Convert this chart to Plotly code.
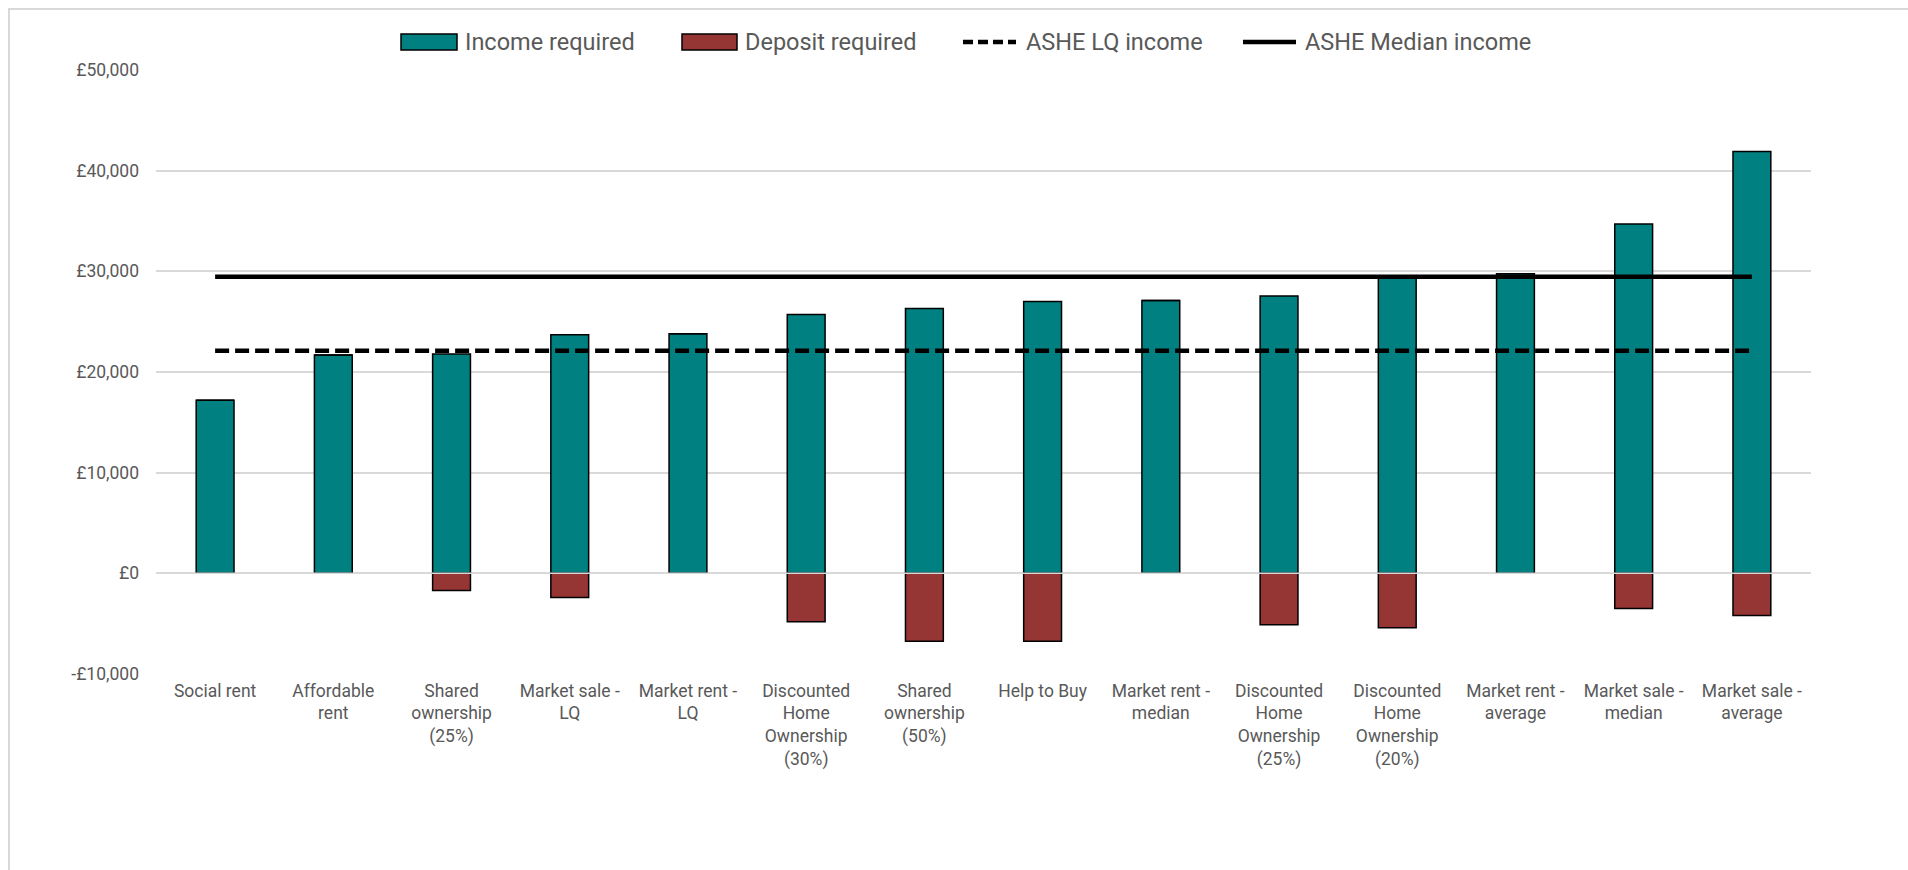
import plotly.graph_objects as go

# Housing tenure options
categories = [
    "Social rent",
    "Affordable<br>rent",
    "Shared<br>ownership<br>(25%)",
    "Market sale -<br>LQ",
    "Market rent -<br>LQ",
    "Discounted<br>Home<br>Ownership<br>(30%)",
    "Shared<br>ownership<br>(50%)",
    "Help to Buy",
    "Market rent -<br>median",
    "Discounted<br>Home<br>Ownership<br>(25%)",
    "Discounted<br>Home<br>Ownership<br>(20%)",
    "Market rent -<br>average",
    "Market sale -<br>median",
    "Market sale -<br>average",
]

# Annual income required (£)
income_required = [17200, 21700, 21800, 23700, 23800, 25700, 26300,
                   27000, 27100, 27550, 29400, 29750, 34700, 41900]

# Deposit required (£), plotted below zero
deposit_required = [0, 0, -1700, -2400, 0, -4800, -6750,
                    -6750, 0, -5100, -5400, 0, -3500, -4200]

# ASHE earnings benchmarks (£)
ashe_lq_income = 22100
ashe_median_income = 29450

# Value axis ticks
tick_values = [-10000, 0, 10000, 20000, 30000, 40000, 50000]
tick_labels = ["-£10,000", "£0", "£10,000", "£20,000", "£30,000", "£40,000", "£50,000"]

TEAL = "#008080"
BRICK = "#963634"
GRID = "#d9d9d9"
TEXT = "#595959"
FONT = "Roboto, 'Open Sans', sans-serif"

W, H = 1908, 870
ML, MR, MT, MB = 156, 97, 70, 196
PW = W - ML - MR
PH = H - MT - MB


def px_x(x):
    return (x - ML) / PW


def px_y(y):
    return 1 - (y - MT) / PH


fig = go.Figure()

fig.add_trace(go.Bar(
    x=categories, y=income_required, name="Income required",
    marker=dict(color=TEAL, line=dict(color="black", width=1.5)),
    width=0.32, showlegend=False,
))
fig.add_trace(go.Bar(
    x=categories, y=deposit_required, name="Deposit required",
    marker=dict(color=BRICK, line=dict(color="black", width=1.5)),
    width=0.32, showlegend=False,
))
fig.add_trace(go.Scatter(
    x=categories, y=[ashe_lq_income] * len(categories), name="ASHE LQ income",
    mode="lines", line=dict(color="black", width=4.5, dash="14px,6px"),
    showlegend=False,
))
fig.add_trace(go.Scatter(
    x=categories, y=[ashe_median_income] * len(categories), name="ASHE Median income",
    mode="lines", line=dict(color="black", width=4.5),
    showlegend=False,
))

shapes = []
# outer chart border (left and top edges visible)
shapes.append(dict(type="line", xref="paper", yref="paper",
                   x0=px_x(9), x1=px_x(9), y0=px_y(H + 50), y1=px_y(8),
                   line=dict(color=GRID, width=2), layer="below"))
shapes.append(dict(type="line", xref="paper", yref="paper",
                   x0=px_x(8), x1=px_x(W + 50), y0=px_y(9), y1=px_y(9),
                   line=dict(color=GRID, width=2), layer="below"))
# zero gridline drawn over the bars
shapes.append(dict(type="line", xref="paper", yref="y", x0=0, x1=1, y0=0, y1=0,
                   line=dict(color=GRID, width=1.5), layer="above"))

# legend keys
ly = 42
key_h = 8
legend_items = [
    ("Income required", "box", TEAL, 401, 457, 463),
    ("Deposit required", "box", BRICK, 682, 737, 743),
    ("ASHE LQ income", "dash", None, 961, 1018, 1024),
    ("ASHE Median income", "solid", None, 1241, 1298, 1303),
]
annotations = []
for label, kind, color, x0, x1, tx in legend_items:
    if kind == "box":
        shapes.append(dict(type="rect", xref="paper", yref="paper",
                           x0=px_x(x0), x1=px_x(x1),
                           y0=px_y(ly + key_h), y1=px_y(ly - key_h),
                           fillcolor=color, line=dict(color="black", width=1.5)))
    else:
        shapes.append(dict(type="line", xref="paper", yref="paper",
                           x0=px_x(x0 + 2), x1=px_x(x1 - 2),
                           y0=px_y(ly), y1=px_y(ly),
                           line=dict(color="black", width=4.5,
                                     dash="10px,5px" if kind == "dash" else "solid")))
    annotations.append(dict(xref="paper", yref="paper", x=px_x(tx), y=px_y(ly),
                            xanchor="left", yanchor="middle", showarrow=False,
                            text=label, font=dict(family=FONT, size=23.5, color=TEXT)))

fig.update_layout(
    width=W, height=H,
    margin=dict(l=ML, r=MR, t=MT, b=MB, autoexpand=False),
    paper_bgcolor="white", plot_bgcolor="white",
    barmode="relative",
    showlegend=False,
    shapes=shapes,
    annotations=annotations,
    font=dict(family=FONT, size=17.5, color=TEXT),
)

fig.update_xaxes(
    type="category", showgrid=False, showline=False, zeroline=False,
    ticks="", tickangle=0, ticklabelstandoff=4,
    tickfont=dict(family=FONT, size=17.5, color=TEXT),
)
fig.update_yaxes(
    range=[-10000, 50000], tickvals=tick_values, ticktext=tick_labels,
    showgrid=True, gridcolor=GRID, gridwidth=1.5,
    zeroline=False, showline=False, ticks="", ticklabelstandoff=16,
    tickfont=dict(family=FONT, size=17.5, color=TEXT),
)

fig.write_html("out.html")
